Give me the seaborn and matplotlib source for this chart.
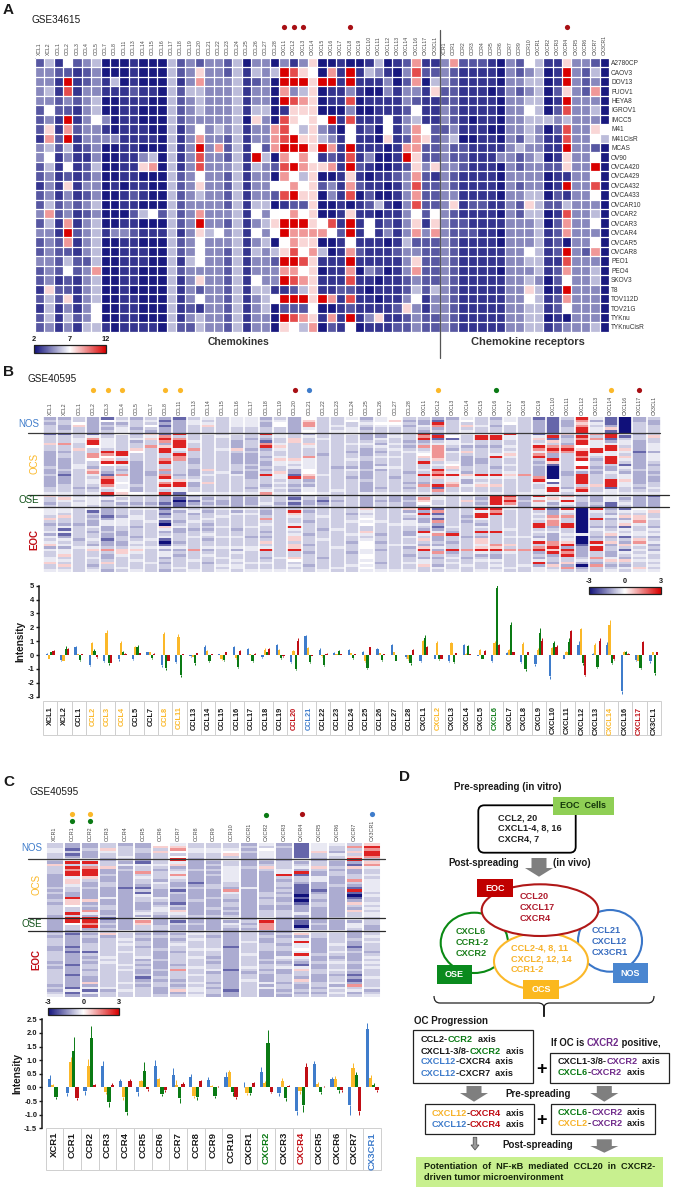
import numpy as np
import pandas as pd
import matplotlib
matplotlib.use("Agg")
import matplotlib.pyplot as plt
from matplotlib.colors import LinearSegmentedColormap
from matplotlib.patches import Rectangle, Ellipse, FancyBboxPatch, Polygon, PathPatch
from matplotlib.path import Path
from matplotlib.cm import ScalarMappable
from matplotlib.colors import Normalize
import seaborn as sns

# ---------- labels ----------
CHEMOKINES = ["XCL1","XCL2","CCL1","CCL2","CCL3","CCL4","CCL5","CCL7","CCL8","CCL11","CCL13","CCL14","CCL15",
              "CCL16","CCL17","CCL18","CCL19","CCL20","CCL21","CCL22","CCL23","CCL24","CCL25","CCL26","CCL27","CCL28",
              "CXCL1","CXCL2","CXCL3","CXCL4","CXCL5","CXCL6","CXCL7","CXCL8","CXCL9","CXCL10","CXCL11","CXCL12",
              "CXCL13","CXCL14","CXCL16","CXCL17","CX3CL1"]
RECEPTORS_A = ["XCR1","CCR1","CCR2","CCR3","CCR4","CCR5","CCR6","CCR7","CCR9","CCR10","CXCR1","CXCR2","CXCR3",
               "CXCR4","CXCR5","CXCR6","CXCR7","CX3CR1"]
RECEPTORS_C = ["XCR1","CCR1","CCR2","CCR3","CCR4","CCR5","CCR6","CCR7","CCR8","CCR9","CCR10","CXCR1","CXCR2","CXCR3",
               "CXCR4","CXCR5","CXCR6","CXCR7","CX3CR1"]
CELL_LINES = ["A2780CP","CAOV3","DOV13","FUOV1","HEYA8","IGROV1","IMCC5","M41","M41CisR","MCAS","OV90","OVCA420",
              "OVCA429","OVCA432","OVCA433","OVCAR10","OVCAR2","OVCAR3","OVCAR4","OVCAR5","OVCAR8","PEO1","PEO4",
              "SKOV3","T8","TOV112D","TOV21G","TYKnu","TYKnuCisR"]

# ---------- panel A (one string per cell line, one digit per gene) ----------
A_CELLS = [
"24152340 00100042 32332403 30313600 10014012 711 37222103 25411633 20",
"33221230 00100042 36332414 34986507 19143103 822 32111103 23401932 40",
"33191231 40100041 37333412 30999699 19111302 704 32111103 34401932 30",
"34181331 11211042 44333413 30734601 13100313 316 22111013 23402632 70",
"33232340 01110042 34333413 30987601 18011113 211 22111103 34401933 30",
"25221340 01100042 34333414 40166600 03001112 511 32111103 35402833 40",
"23191353 01100042 33333406 30865659 18111513 411 32101103 34443433 30",
"26172331 01110041 35343413 37854632 05120513 752 23111003 34302833 65",
"17291333 31111041 37332413 37896643 15110612 762 34001103 24311833 54",
"34241230 01100041 39372415 27999697 19111017 722 32211113 43311933 20",
"35131130 01134041 38332419 40757512 18130019 622 32211133 23401633 50",
"24151240 01167041 38333414 32897667 19210012 636 33211103 23322633 90",
"23121230 01100042 35332413 30754600 16101123 721 32111103 33301133 50",
"13161330 10110042 36332413 35575623 17211013 822 32111103 23301933 80",
"23131230 01210042 34332413 32896603 18020013 722 33111103 34402133 50",
"24232340 01100042 33332414 40122600 10124103 822 36122113 26422433 30",
"37231230 00245242 37333415 35575600 16110113 525 32111103 24401833 40",
"24171340 01100042 39332413 46999658 19151213 616 32211113 33402733 50",
"33192341 33211141 36453415 35977775 29151313 737 32221103 33412733 30",
"23271340 01100042 35333413 40576600 15111014 222 32111103 33412033 50",
"23221340 01110042 35332414 34685740 17211123 322 32111113 35412932 70",
"33242240 01110041 45332413 32998611 19111113 622 32111113 34411833 30",
"23252370 01100042 33332413 33775601 17032013 722 32111103 33412733 40",
"23121340 01100041 36332415 33987611 18110112 322 32111113 34302533 40",
"16221340 01000041 32332414 41124611 22101112 424 32111113 36401933 30",
"24261340 01100041 35332413 45999697 18110113 513 32111113 35412733 30",
"14131350 01100041 21332413 40222500 12111126 313 32111113 34412533 30",
"24142350 01100041 34332413 30987617 19136112 322 32111113 34401033 30",
"23131441 01111042 24332413 30654702 15011122 322 32111113 34412333 40",
]
A_LEVELS = [2.2, 2.8, 3.5, 4.5, 5.6, 7, 7.8, 9, 10.5, 12]

# ---------- panel B heatmap (one string per gene: NOS|OCS|OSE|EOC) ----------
B_CELLS = [
"343444|244474433333343343333445|74434|5554743445354573544557445",
"344334|244484434433334323334445|47544|5547443525235453557454745",
"446744|445544744444554444444344|45455|4444443444443445444444444",
"333333|258996448864437854554345|45554|5243433543445435744544345",
"263434|345555498679644328998549|35344|3332355334332334843347443",
"453455|644444499549543485565567|64534|4443555443344334775444454",
"344434|345344764443333333334336|44434|5445544344434545754454445",
"454643|757448444444444334444445|44434|5444454444445445444445444",
"323233|289837994489448389589549|33323|2323521753452125355343443",
"233333|948999549884444434799552|32122|5344434533444345343444454",
"455444|444544844433443334533446|34234|4534454434454444844454445",
"545744|544444444444447454474445|43434|4344543434543445345443444",
"444444|454444544444444544444445|44334|5445444544454445444544545",
"555544|544333743333444354444445|33333|5354444434454445354454554",
"555544|443444343333434333444345|43334|5454444544434445544445445",
"343344|943289344343343494443458|54454|4334845443434745944345445",
"456644|554457544575544755454545|44434|4444444444444444444544445",
"333333|447744444475453329443435|32423|4975445954577477944764545",
"678856|354475444855556678343556|44334|4344434444344434434444344",
"444444|445444443444444454444445|43234|4445444434445444444344445",
"444545|444444444444434444444454|44344|4444444454444445444444454",
"564455|544454434454435443444444|44444|4434454444544344434444544",
"345434|333454333443334333433335|33333|7545656447545666556656565",
"556544|335435434544353444444345|44344|4444454444344344344443445",
"676544|454454544544454443444445|33344|4444445444444454444444445",
"434344|444343454444444344434345|33433|7354355443354453443445445",
"433543|989348456749445494438445|48764|9394335439547437944355744",
"329834|292458888874549897449284|65445|2824283235833435384344354",
"344444|462554354445674595578445|44444|4444444543944344934545445",
"564745|544453474333344375335446|44744|4443434444434444844344544",
"444544|599443444433444495457445|43434|9599543549437757953454445",
"344344|599443445944434495447445|99995|9894444449444487943354545",
"556444|955445457544544575444444|98985|5444444454454474854444454",
"444444|444444444444444484444445|33433|4444444444454444844444544",
"233333|257459858943433338954455|95855|9454549945435948934359355",
"222222|392748983397211111625995|57534|2338788345333889793443745",
"433344|734438984444444334444354|85954|9548449944545793989447384",
"987899|498996799896695399994895|34433|1111111111511123333453134",
"535455|848555995434434344447445|33343|9544944354434959944843844",
"222372|992359955999433544999255|55522|3435344345734734433574345",
"111111|524554754754254355755445|53454|2547357254524374254374354",
"334444|344333323333334333334345|33333|6547785445547854545454475",
"433444|474455535554344343344545|23333|5744544354534534354454545",
]

# ---------- panel C heatmap ----------
C_CELLS = [
"445544|437444333334343343444434|33333|34344433444434344444434345",
"332423|594989957754433977644944|99644|32333323233332333233332523",
"334333|594899974334333373438534|99893|43433444243434434433735253",
"447544|344733433443333533443343|23434|47344444445454444444445344",
"344445|435343333332333333333333|33333|54454544544445454444544544",
"334433|325448454432425443334534|68744|43434434445343433423434444",
"674744|445434443544333543455434|33344|33433334333433343343443334",
"578646|957345854334243332437545|42433|43434544344443484443434734",
"445544|333343333234333343333344|33433|45454445445444544544545545",
"445544|434343433344333433343343|33333|44344445443434453444343443",
"445674|544555555443854434434344|53543|33333323333333323333333233",
"343433|333433333335333333333333|34343|44445444454444543445444444",
"546555|434743333333344344334445|59888|33433444333434434333535333",
"343333|344455943443434334334445|33333|34344344335434533444344343",
"222222|534539244322221212333535|32213|67359556595432574437433434",
"555744|344743355333234434433333|33433|54433333343343344333443434",
"544354|433434433343333333333334|43333|54444544543454454344535454",
"484747|932733448432921237437445|53554|33343323433343343232384534",
"798998|478544545555545445454554|44433|44545444345454544454445345",
]

# ---------- panel B bars (NOS, OCS, OSE, EOC) ----------
B_NOS = [.1,-.35,.55,-.7,-.4,-.3,-.3,.2,-.75,-.5,-.1,.6,.05,.6,.45,-.15,.7,-.5,1.35,.4,.15,.35,.2,.45,.7,-.15,
         -.4,-.25,-.45,.75,-.05,-.45,.15,-.5,-.65,-1.5,-.25,.7,.1,.7,-2.6,-.35,-.45]
B_OCS = [-.25,-.4,.05,.85,1.6,.9,.6,.2,1.5,1.3,-.15,.3,-.25,-.2,.05,.4,.35,.3,.5,-.1,.05,.15,-.45,.15,.2,-.3,
         1.0,.9,.85,.1,.35,.85,.35,.8,.4,.5,.25,1.85,.75,2.2,.25,-.4,.2]
B_OSE = [.2,.45,-.35,.3,-.6,.2,.55,-.2,-.9,-1.45,-.6,-.4,-.35,-.85,-.45,.2,-.2,-1.0,-.5,-.7,.3,-.2,-.95,-.35,-.4,-.6,
         1.2,-.25,-.5,.65,-.25,4.8,2.2,-1.0,1.6,.9,.95,-.6,-.85,-.55,.25,-.9,-1.3]
B_EOC = [.3,.45,.05,-.15,-.55,.1,.15,.1,-.4,.05,.15,.05,.2,.3,.1,.45,-.1,1.05,-.05,.1,.05,.05,.55,.05,.02,.4,
         .55,-.25,.15,.05,.3,.7,.2,.2,1.05,.6,1.7,-1.45,1.05,-.3,.1,.95,.2]
B_NOS_ERR = [.04,.1,.12,.12,.08,.1,.08,.05,.12,.08,.04,.1,.03,.06,.07,.08,.12,.08,.1,.1,.05,.08,.06,.05,.1,.08,
             .08,.05,.08,.08,.03,.07,.05,.08,.15,.2,.05,.3,.04,.25,.2,.06,.1]
B_OCS_ERR = [.05,.06,.02,.1,.2,.1,.05,.05,.15,.2,.02,.05,.08,.06,.02,.08,.08,.05,.05,.03,.02,.03,.08,.03,.05,.06,
             .1,.15,.12,.03,.1,.15,.1,.12,.08,.1,.05,.1,.12,.35,.05,.05,.05]
B_OSE_ERR = [.03,.2,.1,.15,.15,.1,.15,.05,.2,.12,.1,.1,.08,.1,.08,.03,.05,.1,.1,.08,.06,.05,.05,.06,.05,.08,
             .25,.08,.08,.1,.05,.35,.2,.12,.35,.1,.25,.1,.1,.1,.05,.1,.1]
B_EOC_ERR = [.04,.03,.03,.03,.05,.03,.02,.03,.05,.03,.03,.02,.03,.05,.02,.08,.02,.15,.02,.02,.02,.02,.05,.01,.01,.04,
             .1,.05,.03,.02,.05,.1,.05,.05,.15,.1,.1,.05,.15,.05,.02,.05,.05]

# ---------- panel C bars ----------
C_NOS = [.3,-.2,-.12,.78,.22,-.15,.8,.45,.4,.28,.38,.03,.55,-.2,-.85,.85,.3,-.65,2.15]
C_OCS = [.1,.95,.78,-.15,-.35,.22,.3,.08,-.3,.05,.55,-.2,.18,.25,-.12,.12,.3,.7,.35]
C_OSE = [-.35,1.35,1.83,-.55,-.9,.6,-.25,-.4,-.35,-.3,-.15,-.2,1.62,-.4,-.65,-.18,-.1,.45,.1]
C_EOC = [.01,-.4,.1,.1,.25,-.05,-.1,.12,.22,.03,-.35,.15,-.15,.05,.75,.02,-.1,-.85,-.1]
C_NOS_ERR = [.15,.12,.15,.18,.08,.15,.22,.25,.08,.1,.2,.17,.2,.12,.15,.12,.1,.35,.2]
C_OCS_ERR = [.03,.18,.25,.1,.1,.05,.05,.18,.1,.03,.1,.08,.05,.08,.13,.07,.12,.2,.1]
C_OSE_ERR = [.07,.5,.42,.15,.12,.35,.05,.17,.1,.1,.15,.08,.48,.08,.27,.06,.1,.12,.05]
C_EOC_ERR = [.02,.06,.03,.08,.07,.08,.05,.07,.07,.02,.06,.05,.07,.04,.15,.02,.06,.15,.05]

GROUPS = ["NOS", "OCS", "OSE", "EOC"]
BLUE, YELLOW, GREEN, RED = "#3f7ccb", "#fbb829", "#0a7a14", "#c00d14"
PURPLE = "#6f2a8a"
ORANGE = "#f7b32b"
BLACK = "#1a1a1a"
B_COLORED = {"CCL2":YELLOW,"CCL3":YELLOW,"CCL4":YELLOW,"CCL8":YELLOW,"CCL11":YELLOW,"CXCL2":YELLOW,"CXCL14":YELLOW,
             "CCL20":RED,"CXCL17":RED,"CCL21":BLUE,"CXCL6":GREEN}
C_COLORED = {"CXCR2":GREEN,"CXCR4":RED,"CX3CR1":BLUE}

sns.set_theme(style="white")
plt.rcParams["font.family"] = ["Liberation Sans", "DejaVu Sans"]
W, H = 674, 1190
fig = plt.figure(figsize=(W/100, H/100), dpi=100, facecolor="white")
cmap = LinearSegmentedColormap.from_list("bwr2", ["#10107a", "#ffffff", "#d90000"])


def pxax(x0, y0, x1, y1, **kw):
    return fig.add_axes([x0/W, 1-y1/H, (x1-x0)/W, (y1-y0)/H], **kw)


def top_labels(ax, labels, pad=2.2, size=3.7):
    ax.set_xticks(np.arange(len(labels))+.5)
    ax.set_xticklabels(labels, rotation=90, fontsize=size, color="#444444")
    ax.xaxis.tick_top()
    ax.tick_params(axis="x", length=0, pad=pad)
    ax.set_xlabel("")
    ax.set_ylabel("")


def dots(ax, labels, genes, color, frac):
    xs = [labels.index(g)+.5 for g in genes]
    ax.scatter(xs, [frac]*len(xs), s=14, color=color, transform=ax.get_xaxis_transform(), clip_on=False, lw=0, zorder=5)


# ---- panel A
labelsA = CHEMOKINES + RECEPTORS_A
matA = np.array([[A_LEVELS[int(c)] for c in r.replace(" ", "")] for r in A_CELLS])
dfA = pd.DataFrame(matA, index=CELL_LINES, columns=labelsA)
axA = pxax(34.7, 58, 609, 331.7)
sns.heatmap(dfA, ax=axA, cmap=cmap, vmin=2, vmax=12, cbar=False)
axA.vlines(np.arange(0, len(labelsA)+1), 0, len(CELL_LINES), color="white", lw=.9)
axA.hlines(np.arange(0, len(CELL_LINES)+1), 0, len(labelsA), color="white", lw=.9)
top_labels(axA, labelsA, pad=2.5, size=3.7)
axA.yaxis.tick_right()
axA.set_yticks(np.arange(len(CELL_LINES))+.5)
axA.set_yticklabels(CELL_LINES, rotation=0, fontsize=4.7, color="#333333")
axA.tick_params(axis="y", length=0, pad=1.5)
dots(axA, labelsA, ["CXCL1","CXCL2","CXCL3","CXCL8","CXCR4"], "#a80f14", 1+31/273.7)


def strip_matrix(cols, counts, levels):
    out = []
    for c in cols:
        parts = c.replace(" ", "").split("|")
        col = ""
        for p, n in zip(parts, counts):
            col += p[:n].ljust(n, p[-1])
        out.append([levels[ch] for ch in col])
    return np.array(out).T


LEV_STRIPE = {"1":-3,"2":-1.9,"3":-1.05,"4":-.62,"5":-.28,"6":0,"7":.55,"8":1.25,"9":2.6}

# ---- panel B heatmap
matB = strip_matrix(B_CELLS, (6, 24, 5, 25), LEV_STRIPE)
axB = pxax(43, 417, 661, 572)
sns.heatmap(pd.DataFrame(matB, columns=CHEMOKINES), ax=axB, cmap=cmap, vmin=-3, vmax=3, cbar=False, yticklabels=False)
axB.vlines(np.arange(0, len(CHEMOKINES)+1), 0, matB.shape[0], color="white", lw=1.2)
top_labels(axB, CHEMOKINES, pad=1.5, size=3.7)
axB.set_yticks([])
for genes, col in [(["CCL2","CCL3","CCL4","CCL8","CCL11","CXCL2","CXCL14"], YELLOW), (["CCL20","CXCL17"], "#a80f14"),
                   (["CCL21"], BLUE), (["CXCL6"], GREEN)]:
    dots(axB, CHEMOKINES, genes, col, 1+27/155)

# ---- panel C heatmap
matC = strip_matrix(C_CELLS, (6, 23, 5, 26), LEV_STRIPE)
axC = pxax(46, 843, 381, 997)
sns.heatmap(pd.DataFrame(matC, columns=RECEPTORS_C), ax=axC, cmap=cmap, vmin=-3, vmax=3, cbar=False, yticklabels=False)
axC.vlines(np.arange(0, len(RECEPTORS_C)+1), 0, matC.shape[0], color="white", lw=1.4)
top_labels(axC, RECEPTORS_C, pad=1.5, size=3.9)
axC.set_yticks([])
dots(axC, RECEPTORS_C, ["CCR1","CCR2"], YELLOW, 1+29/154)
dots(axC, RECEPTORS_C, ["CCR1","CCR2"], GREEN, 1+22/154)
dots(axC, RECEPTORS_C, ["CXCR2"], GREEN, 1+28/154)
dots(axC, RECEPTORS_C, ["CXCR4"], "#a80f14", 1+29/154)
dots(axC, RECEPTORS_C, ["CX3CR1"], BLUE, 1+29/154)


def bars(ax, genes, series, errs, colored, width, lab_size, y0_box, h_box, pad, ticks, ylim, xlim, tick_size, ticklab):
    rows = []
    for g, vals in zip(GROUPS, series):
        for gene, v in zip(genes, vals):
            rows.append({"gene": gene, "group": g, "value": v})
    df = pd.DataFrame(rows)
    sns.barplot(data=df, x="gene", y="value", hue="group", order=genes, hue_order=GROUPS,
                palette=[BLUE, YELLOW, GREEN, RED], saturation=1, width=width, gap=0, errorbar=None,
                legend=False, linewidth=0, ax=ax)
    for cont, er, col in zip(ax.containers, errs, [BLUE, YELLOW, GREEN, RED]):
        for patch, e in zip(cont, er):
            xc = patch.get_x()+patch.get_width()/2
            h = patch.get_height()
            ax.vlines(xc, h, h+np.sign(h)*e, color=col, lw=.7)
    ax.set_xlim(*xlim)
    ax.set_ylim(*ylim)
    ax.set_yticks(ticks)
    ax.set_yticklabels(ticklab, fontsize=tick_size, fontweight="bold", color=BLACK)
    ax.set_ylabel("Intensity", fontsize=7.2, fontweight="bold", color=BLACK, labelpad=1.5)
    ax.set_xlabel("")
    ax.tick_params(axis="y", length=2.2, width=1, pad=1, left=True, color=BLACK)
    ax.tick_params(axis="x", length=0, pad=pad)
    ax.set_xticks(range(len(genes)))
    ax.set_xticklabels(genes, rotation=90, fontsize=lab_size, fontweight="bold")
    for t, g in zip(ax.get_xticklabels(), genes):
        t.set_color(colored.get(g, BLACK))
    for i in range(len(genes)):
        ax.add_patch(Rectangle((i-.5, y0_box), 1, h_box, transform=ax.get_xaxis_transform(), clip_on=False,
                               fc="white", ec="#cfcfcf", lw=.7, zorder=0))
    sns.despine(ax=ax, bottom=True, top=True, right=True)
    ax.spines["left"].set_linewidth(1.1)
    ax.spines["left"].set_color(BLACK)
    ax.patch.set_alpha(0)


axBb = pxax(38.7, 585.7, 661, 696.7)
bars(axBb, CHEMOKINES, [B_NOS, B_OCS, B_OSE, B_EOC], [B_NOS_ERR, B_OCS_ERR, B_OSE_ERR, B_EOC_ERR], B_COLORED,
     .62, 5.3, -.345, .309, 7, range(-3, 6), (-3, 5), (-.8, 42.5), 5.4, [str(i) for i in range(-3, 6)])
axCb = pxax(41.7, 1019.3, 381, 1128.3)
cticks = [-1.5, -1, -.5, 0, .5, 1, 1.5, 2, 2.5]
bars(axCb, RECEPTORS_C, [C_NOS, C_OCS, C_OSE, C_EOC], [C_NOS_ERR, C_OCS_ERR, C_OSE_ERR, C_EOC_ERR], C_COLORED,
     .74, 6.8, -.383, .388, 2.5, cticks, (-1.5, 2.5), (-.725, 18.5), 5.4, [f"{t:.1f}" for t in cticks])


def cbar(x0, y0, x1, y1, vmin, vmax, ticks, labels):
    cax = pxax(x0, y0, x1, y1)
    cb = fig.colorbar(ScalarMappable(Normalize(vmin, vmax), cmap), cax=cax, orientation="horizontal")
    cb.set_ticks(ticks)
    cb.set_ticklabels(labels, fontsize=5.3, fontweight="bold", color=BLACK)
    cax.xaxis.tick_top()
    cax.tick_params(axis="x", length=0, pad=1.2)
    cb.outline.set_linewidth(.9)
    cb.outline.set_edgecolor("#222222")


cbar(34, 345, 106, 352.5, 2, 12, [2, 7, 12], ["2", "7", "12"])
cbar(589, 586.7, 660.7, 594, -3, 3, [-3, 0, 3], ["-3", "0", "3"])
cbar(47.7, 1008, 119, 1015.3, -3, 3, [-3, 0, 3], ["-3", "0", "3"])

# ---- overlay: annotations and panel D
ov = fig.add_axes([0, 0, 1, 1], zorder=10)
ov.set_xlim(0, W)
ov.set_ylim(H, 0)
ov.axis("off")
ov.patch.set_alpha(0)


def T(x, y, s, size=6.6, color=BLACK, bold=True, ha="left", rot=0, z=30):
    return ov.text(x, y, s, fontsize=size, color=color, fontweight="bold" if bold else "normal",
                   ha=ha, va="center", rotation=rot, zorder=z)


for x, y, s in [(3, 10, "A"), (3, 372.5, "B"), (3, 782, "C"), (399, 777, "D")]:
    T(x, y, s, size=11)
T(32, 20, "GSE34615", size=7.2, bold=False)
T(28, 379, "GSE40595", size=7.2, bold=False)
T(30, 792, "GSE40595", size=7.2, bold=False)
T(239, 341.7, "Chemokines", size=7.5, ha="center", color="#333333")
T(528, 341.7, "Chemokine receptors", size=8, ha="center", color="#333333")
ov.plot([439.7, 439.7], [30, 358], color="#555555", lw=.9)

for xh, xv, ys in [(29, 34, (424, 463, 500, 539)), (32, 36, (847.7, 884, 924, 959))]:
    T(xh, ys[0], "NOS", size=7, color=BLUE, bold=False, ha="center")
    T(xv, ys[1], "OCS", size=7, color=YELLOW, bold=False, ha="center", rot=90)
    T(xh, ys[2], "OSE", size=7, color="#12521a", bold=False, ha="center")
    T(xv, ys[3], "EOC", size=7, color=RED, ha="center", rot=90)

ov.plot([28, 660], [433, 433], color="#3a3a3a", lw=.9)
ov.plot([28, 669], [494.7, 494.7], color="#2a2a2a", lw=.9)
ov.plot([28, 669], [506.7, 506.7], color="#2a2a2a", lw=.9)
ov.plot([28, 385], [859.4, 859.4], color="#3a3a3a", lw=.9)
ov.plot([28, 385], [917.7, 917.7], color="#2a2a2a", lw=.9)
ov.plot([28, 385], [931, 931], color="#2a2a2a", lw=.9)


def rich(x, y, parts, size=6.6):
    r = fig.canvas.get_renderer()
    for s, c in parts:
        t = T(x, y, s.replace(" ", "\u00a0"), size=size, color=c)
        bb = t.get_window_extent(r)
        x += bb.width*W/fig.bbox.width


def rect(x0, y0, x1, y1, fc="none", ec="none", lw=1, z=5):
    ov.add_patch(Rectangle((x0, y0), x1-x0, y1-y0, fc=fc, ec=ec, lw=lw, zorder=z))


def ell(x0, y0, x1, y1, ec, z, lw=1.5):
    ov.add_patch(Ellipse(((x0+x1)/2, (y0+y1)/2), x1-x0, y1-y0, fc="white", ec=ec, lw=lw, zorder=z))


def arrow(xc, y0, ys, y1, sw, hw, fc="#7f7f7f", ec="none"):
    pts = [(xc-sw/2, y0), (xc+sw/2, y0), (xc+sw/2, ys), (xc+hw/2, ys), (xc, y1), (xc-hw/2, ys), (xc-sw/2, ys)]
    ov.add_patch(Polygon(pts, closed=True, fc=fc, ec=ec, lw=.6, zorder=6))


T(454, 787, "Pre-spreading (in vitro)", size=7)
ov.add_patch(FancyBboxPatch((482, 809), 90, 40, boxstyle="round,pad=3.7,rounding_size=6", fc="white", ec="black", lw=1.3,
                            mutation_aspect=1, zorder=4))
rect(553, 797, 614, 815, fc="#8fcf55", z=6)
T(583.5, 806, "EOC  Cells", size=6.5, ha="center", color="#14360a")
for y, s in [(817.7, "CCL2, 20"), (828.3, "CXCL1-4, 8, 16"), (839.3, "CXCR4, 7")]:
    T(497.7, y, s, size=6.6, color="#222222")
T(448, 862.7, "Post-spreading", size=7)
T(552.7, 862.7, "(in vivo)", size=7)
arrow(539, 858, 868, 876.7, 15, 28)

ell(578, 910, 642, 971.7, "#3a76c8", 7)
ell(440.7, 912.7, 508, 973, "#0a8a14", 7)
ell(494, 932.7, 588, 990, "#fbb829", 9)
ell(481.7, 884.3, 598.3, 936, "#b01818", 10)
rect(476.7, 879, 512.7, 897.3, fc="#c00000", z=11)
T(494.7, 888.5, "EOC", size=6.5, color="white", ha="center")
rect(436.7, 965, 472, 984, fc="#0a8a1e", z=11)
T(454.3, 974.7, "OSE", size=6.5, color="white", ha="center")
rect(612.7, 963.3, 648.3, 982.7, fc="#4a86d0", z=11)
T(630.5, 973, "NOS", size=6.5, color="white", ha="center")
rect(523, 980, 559, 999.3, fc="#fbb81e", z=11)
T(541, 989.7, "OCS", size=6.5, color="white", ha="center")
for y, s in [(896.7, "CCL20"), (907.7, "CXCL17"), (918.7, "CXCR4")]:
    T(520, y, s, color="#b01c2e")
for y, s in [(931.3, "CXCL6"), (942.3, "CCR1-2"), (953, "CXCR2")]:
    T(456, y, s, color="#1b7f1b")
for y, s in [(930.3, "CCL21"), (941.7, "CXCL12"), (952.3, "CX3CR1")]:
    T(592, y, s, color="#3a6ec0")
for y, s in [(947.7, "CCL2-4, 8, 11"), (959, "CXCL2, 12, 14"), (970, "CCR1-2")]:
    T(511, y, s, color=ORANGE)

brace = Path([(434, 996), (434, 1003), (440, 1003), (538, 1003), (544, 1003), (544, 1008), (544, 1016.7),
              (544, 1008), (544, 1003), (550, 1003), (648, 1003), (654, 1003), (654, 996)],
             [Path.MOVETO, Path.CURVE3, Path.CURVE3, Path.LINETO, Path.CURVE3, Path.CURVE3, Path.LINETO,
              Path.LINETO, Path.CURVE3, Path.CURVE3, Path.LINETO, Path.CURVE3, Path.CURVE3])
ov.add_patch(PathPatch(brace, fc="none", ec="#222222", lw=.9, zorder=5))

T(414, 1021, "OC Progression", size=7)
rect(413.3, 1030.3, 532.7, 1083.3, fc="white", ec="#222222", lw=.9)
rich(420.7, 1040, [("CCL2-", BLACK), ("CCR2", GREEN), ("  axis", BLACK)])
rich(420.7, 1051, [("CXCL1-3/8-", BLACK), ("CXCR2", GREEN), ("  axis", BLACK)])
rich(420.7, 1062, [("CXCL12", BLUE), ("-CXCR4  axis", BLACK)])
rich(420.7, 1073.7, [("CXCL12", BLUE), ("-CXCR7  axis", BLACK)])
T(541.7, 1069.3, "+", size=13, ha="center", color="black")
rich(550.7, 1042.7, [("If OC is ", BLACK), ("CXCR2", PURPLE), (" positive,", BLACK)], size=6.9)
rect(549.7, 1053, 669.3, 1083, fc="white", ec="#222222", lw=.9)
rich(557.3, 1061.7, [("CXCL1-3/8-", BLACK), ("CXCR2", PURPLE), ("  axis", BLACK)])
rich(557.3, 1072.7, [("CXCL6", GREEN), ("-", BLACK), ("CXCR2", PURPLE), ("  axis", BLACK)])
arrow(474, 1086, 1093, 1101.7, 15, 28)
T(505, 1094, "Pre-spreading", size=7)
arrow(604.3, 1086, 1093, 1101.7, 15, 28)
rect(424.7, 1103.7, 533.7, 1134, fc="white", ec="#222222", lw=.9)
rich(431.7, 1113.3, [("CXCL12", ORANGE), ("-", BLACK), ("CXCR4", RED), ("  axis", BLACK)])
rich(431.7, 1124.3, [("CXCL12", BLUE), ("-", BLACK), ("CXCR4", RED), ("  axis", BLACK)])
T(541.7, 1120.7, "+", size=13, ha="center", color="black")
rect(551.3, 1103.7, 654.7, 1134, fc="white", ec="#222222", lw=.9)
rich(558, 1112.7, [("CXCL6", GREEN), ("-", BLACK), ("CXCR2", PURPLE), ("  axis", BLACK)])
rich(558, 1123.7, [("CXCL2", ORANGE), ("-", BLACK), ("CXCR2", PURPLE), ("  axis", BLACK)])
arrow(475, 1137.3, 1145, 1150, 3.5, 8, fc="#9a9a9a", ec="#555555")
T(502.3, 1145, "Post-spreading", size=7)
arrow(604.3, 1139.3, 1146, 1152.7, 15, 28)
rect(416, 1157.3, 663.3, 1186.7, fc="#c8f08f")
T(424, 1166.7, "Potentiation  of  NF-\u03baB  mediated  CCL20  in  CXCR2-", size=6.6, color="#14240a")
T(424, 1177.3, "driven tumor microenvironment", size=6.6, color="#14240a")

fig.savefig("out.png", dpi=100, facecolor="white")
